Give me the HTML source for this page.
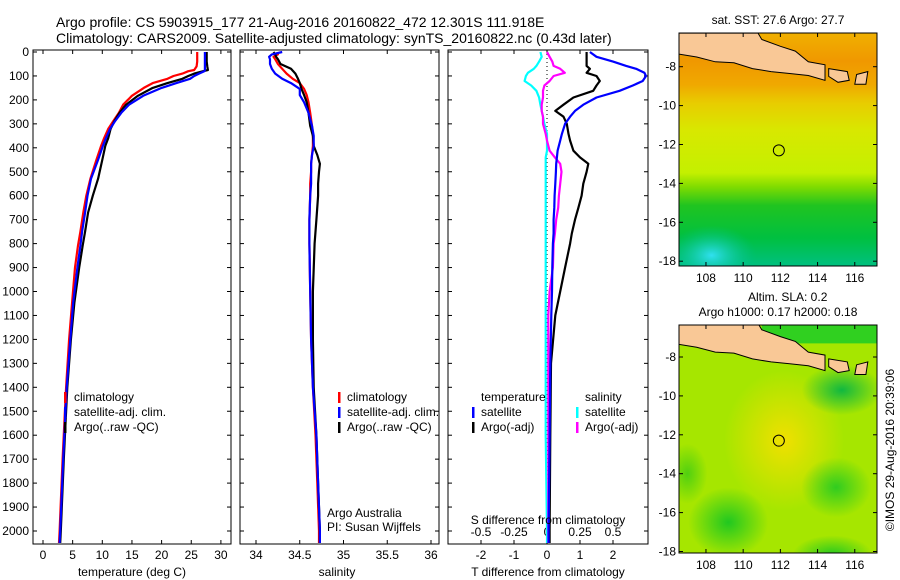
<!DOCTYPE html>
<html><head><meta charset="utf-8"><style>
body{margin:0;background:#fff;}
svg{display:block;font-family:"Liberation Sans",sans-serif;}
text{font-size:12px;fill:#000;}
</style></head><body>
<svg id="fig" width="900" height="580" viewBox="0 0 900 580">
<text x="56" y="27" style="font-size:14px">Argo profile: CS 5903915_177 21-Aug-2016 20160822_472 12.301S 111.918E</text>
<text x="56" y="43" style="font-size:14px">Climatology: CARS2009. Satellite-adjusted climatology: synTS_20160822.nc (0.43d later)</text>
<g id="g"></g>
<text transform="translate(894,450) rotate(-90)" text-anchor="middle" style="font-size:12px">©IMOS 29-Aug-2016 20:39:06</text>
</svg>
<script>
// ---------- data ----------
const depthT=[0,20,40,60,75,80,90,100,112,130,150,183,220,254,290,321,360,392,450,529,600,670,750,808,900,1046,1200,1400,1500,1700,2000,2050];
const climT=[26.0,26.0,26.0,25.9,25.5,24.5,23.5,22.0,21.0,18.5,17.0,15.0,13.5,12.8,11.8,11.0,10.3,9.8,9.0,8.0,7.3,6.8,6.3,5.9,5.4,4.9,4.4,3.9,3.7,3.3,2.8,2.7];
const satT=[27.3,27.3,27.3,27.3,27.3,27.2,26.3,25.5,24.8,22.5,20.0,16.9,14.5,13.2,12.1,11.3,10.6,10.1,9.3,8.1,7.5,7.1,6.6,6.3,5.8,5.1,4.6,4.0,3.8,3.4,2.9,2.8];
const argoT=[27.6,27.6,27.6,27.7,27.8,27.0,25.5,24.5,23.5,21.0,18.5,16.0,14.0,12.9,12.0,11.4,11.0,10.5,10.0,9.3,8.4,7.6,7.1,6.7,6.1,5.3,4.7,4.1,3.9,3.5,3.0,2.9];
const depthS=[0,10,20,30,50,70,90,112,130,154,180,210,254,308,350,392,430,467,500,550,600,700,800,1000,1200,1400,1600,1800,2000,2050];
const climS=[34.25,34.25,34.2,34.22,34.25,34.3,34.35,34.42,34.5,34.55,34.58,34.6,34.62,34.64,34.65,34.65,34.64,34.63,34.63,34.62,34.62,34.61,34.61,34.62,34.63,34.65,34.68,34.7,34.72,34.72];
const satS=[34.3,34.18,34.15,34.16,34.16,34.18,34.22,34.3,34.4,34.5,34.5,34.55,34.6,34.64,34.66,34.66,34.64,34.63,34.63,34.63,34.62,34.61,34.61,34.62,34.63,34.65,34.69,34.71,34.73,34.73];
const argoS=[34.2,34.22,34.23,34.25,34.28,34.4,34.45,34.48,34.5,34.52,34.55,34.58,34.6,34.62,34.65,34.66,34.7,34.73,34.72,34.71,34.71,34.69,34.67,34.65,34.65,34.66,34.69,34.71,34.73,34.73];
const depthD=[0,20,40,58,70,87,100,121,140,162,190,220,246,270,300,342,370,412,440,467,500,550,600,650,700,758,800,900,1000,1100,1300,1600,2000,2050];
const satDT=[1.3,1.5,2.0,2.4,2.7,2.95,3.0,2.9,2.6,2.2,1.5,1.1,0.85,0.7,0.55,0.45,0.4,0.32,0.3,0.28,0.27,0.25,0.23,0.22,0.2,0.2,0.18,0.16,0.15,0.13,0.1,0.08,0.05,0.05];
const argoDT=[1.2,1.2,1.2,1.2,1.3,1.2,1.5,1.6,1.5,1.4,0.8,0.5,0.25,0.5,0.6,0.65,0.7,0.8,1.0,1.25,1.2,1.1,1.05,0.95,0.85,0.75,0.7,0.55,0.4,0.25,0.12,0.1,0.08,0.08];
const satDS=[-0.05,-0.04,-0.06,-0.08,-0.1,-0.145,-0.16,-0.17,-0.12,-0.08,-0.06,-0.05,-0.04,-0.03,-0.02,0,0,0,-0.01,-0.01,-0.01,-0.01,-0.01,-0.01,-0.01,-0.01,-0.01,-0.01,-0.01,-0.01,-0.01,-0.01,0,0];
const argoDS=[0,0.02,0.04,0.05,0.1,0.135,0.05,0.02,-0.02,-0.03,-0.03,-0.04,-0.04,-0.03,-0.03,-0.01,0,0.02,0.06,0.1,0.11,0.1,0.09,0.085,0.07,0.06,0.05,0.045,0.02,0.01,0.01,0.01,0.01,0.01];
const depthTicks=[0,100,200,300,400,500,600,700,800,900,1000,1100,1200,1300,1400,1500,1600,1700,1800,1900,2000];
const tempTicks=[0,5,10,15,20,25,30];
const salTicks=[34,34.5,35,35.5,36];
const tdiffTicks=[-2,-1,0,1,2];
const sdiffTicks=[-0.5,-0.25,0,0.25,0.5];
const lonTicks=[108,110,112,114,116];
const latTicks=[-8,-10,-12,-14,-16,-18];
const argoLon=[111.918], argoLat=[-12.301];

const NS='http://www.w3.org/2000/svg';
const G=document.getElementById('g');
function el(t,a,p){const e=document.createElementNS(NS,t);for(const k in a)e.setAttribute(k,a[k]);(p||G).appendChild(e);return e;}
const Y0=52,KY=0.2395;
const yD=d=>Y0+d*KY;
const xT=v=>43+5.93*v, xS=v=>256+87.5*(v-34), xDT=v=>547+33*v, xDS=v=>547+132*v;
const PTOP=50,PBOT=544;
function frame(x0,x1,name){
  const r=el('rect',{x:x0,y:PTOP,width:x1-x0,height:PBOT-PTOP,fill:'none',stroke:'#000','stroke-width':1});
  
  
  depthTicks.forEach(d=>{const y=yD(d);
    el('line',{x1:x0,x2:x0+4,y1:y,y2:y,stroke:'#000'});
    el('line',{x1:x1-4,x2:x1,y1:y,y2:y,stroke:'#000'});});
}
function xticks(vals,fx,lab,yl){vals.forEach(v=>{const x=fx(v);
  el('line',{x1:x,x2:x,y1:PTOP,y2:PTOP+4,stroke:'#000'});
  el('line',{x1:x,x2:x,y1:PBOT-4,y2:PBOT,stroke:'#000'});
  if(lab){const t=el('text',{x:x,y:yl||559,'text-anchor':'middle'});t.textContent=String(v);
    
    }});}
function line(ds,vs,fx,col,name,w){
  const p=ds.map((d,i)=>(i?'L':'M')+fx(vs[i]).toFixed(1)+','+yD(Math.min(d,2052)).toFixed(1)).join('');
  const e=el('path',{d:p,fill:'none',stroke:col,'stroke-width':w||2.2,'stroke-linejoin':'round'});
  
  
}
function txt(x,y,s,name,anchor){const t=el('text',{x:x,y:y,'text-anchor':anchor||'start'});t.textContent=s;
  
  return t;}
function legBar(x,y,col){el('rect',{x:x,y:y-9,width:2.5,height:11,fill:col});}

// panel 1
frame(33,231,'temperature-panel');
depthTicks.forEach(d=>{txt(29,yD(d)+4,String(d),'y-tick-label','end');});
xticks(tempTicks,xT,true);
line(depthT,climT,xT,'#f00','climatology-temp-line');
line(depthT,argoT,xT,'#000','argo-temp-line');
line(depthT,satT,xT,'#00f','satellite-temp-line');
txt(132,576,'temperature (deg C)','x-axis-title','middle');
legBar(64,401,'#f00');txt(74,401,'climatology','legend-climatology');
legBar(64,416,'#00f');txt(74,416,'satellite-adj. clim.','legend-satellite');
legBar(64,431,'#000');txt(74,431,'Argo(..raw -QC)','legend-argo');

// panel 2
frame(240,439,'salinity-panel');
xticks(salTicks,xS,true);
line(depthS,climS,xS,'#f00','climatology-sal-line');
line(depthS,argoS,xS,'#000','argo-sal-line');
line(depthS,satS,xS,'#00f','satellite-sal-line');
txt(337,576,'salinity','x-axis-title','middle');
legBar(338,401,'#f00');txt(347,401,'climatology','legend-climatology');
legBar(338,416,'#00f');txt(347,416,'satellite-adj. clim.','legend-satellite');
legBar(338,431,'#000');txt(347,431,'Argo(..raw -QC)','legend-argo');
txt(327,517,'Argo Australia','credit-argo-australia');
txt(327,531,'PI: Susan Wijffels','credit-pi');

// panel 3
frame(448,648,'difference-panel');
xticks(tdiffTicks,xDT,true);
sdiffTicks.forEach(v=>{const x=xDS(v);el('line',{x1:x,x2:x,y1:PBOT-4,y2:PBOT,stroke:'#000'});
  txt(x,536,String(v),'s-tick-label','middle');});
el('line',{x1:xDT(0),x2:xDT(0),y1:PTOP,y2:PBOT,stroke:'#000','stroke-dasharray':'1,3'});
line(depthD,satDS,xDS,'#0ff','satellite-sdiff-line');
line(depthD,argoDS,xDS,'#f0f','argo-sdiff-line');
line(depthD,argoDT,xDT,'#000','argo-tdiff-line');
line(depthD,satDT,xDT,'#00f','satellite-tdiff-line');
txt(548,576,'T difference from climatology','x-axis-title','middle');
txt(548,524,'S difference from climatology','s-axis-title','middle');
txt(481,401,'temperature','legend-temperature');txt(585,401,'salinity','legend-salinity');
legBar(472,416,'#00f');txt(481,416,'satellite','legend-t-satellite');
legBar(472,431,'#000');txt(481,431,'Argo(-adj)','legend-t-argo');
legBar(576,416,'#0ff');txt(585,416,'satellite','legend-s-satellite');
legBar(576,431,'#f0f');txt(585,431,'Argo(-adj)','legend-s-argo');

// maps
const MX0=679,MX1=877,LON0=106.55,KX=18.6;
const mx=l=>MX0+(l-LON0)*KX;
const coastS=[[106.55,-7.35],[107.5,-7.5],[108.5,-7.75],[109.5,-7.8],[110.5,-8.1],[111.5,-8.25],[112.5,-8.35],[113.5,-8.45],[114.4,-8.7],[114.4,-7.9],[113.5,-7.75],[112.8,-7.2],[112,-6.95],[111,-6.6],[110.8,-6.27],[106.55,-6.27]];
const bali=[[114.6,-8.1],[115.6,-8.25],[115.7,-8.7],[115.1,-8.8],[114.6,-8.5]];
const lombok=[[116.1,-8.4],[116.7,-8.25],[116.6,-8.9],[116.0,-8.9]];
function map(y0,y1,yLat8,id,kind){
  const my=l=>yLat8+(-8-l)*19.45;
  const g=el('g',{});
  
  
  const defs=el('defs',{},g);
  const cp=el('clipPath',{id:id+'c'},defs);el('rect',{x:MX0,y:y0,width:MX1-MX0,height:y1-y0},cp);
  const c=el('g',{'clip-path':'url(#'+id+'c)'},g);
  if(kind==='sst'){
    const lg=el('linearGradient',{id:id+'g',x1:0,y1:0,x2:0,y2:1},defs);
    [['0','#f0b000'],['0.12','#f09800'],['0.22','#f0a800'],['0.3','#e8cc00'],['0.42','#d8e800'],['0.6','#c4f000'],['0.66','#80dc00'],['0.74','#20c420'],['0.88','#00c040'],['1','#00c080']].forEach(s=>el('stop',{offset:s[0],'stop-color':s[1]},lg));
    el('rect',{x:MX0,y:y0,width:MX1-MX0,height:y1-y0,fill:'url(#'+id+'g)'},c);
    const rg=el('radialGradient',{id:id+'t'},defs);
    el('stop',{offset:'0','stop-color':'#30e0f0'},rg);el('stop',{offset:'1','stop-color':'#00c090','stop-opacity':0},rg);
    el('ellipse',{cx:mx(108.3),cy:my(-17.7),rx:45,ry:30,fill:'url(#'+id+'t)'},c);
  } else {
    el('rect',{x:MX0,y:y0,width:MX1-MX0,height:y1-y0,fill:'#a6e600'},c);
    const blob=(lon,lat,rx,ry,col,n)=>{const rg=el('radialGradient',{id:id+n},defs);
      el('stop',{offset:'0','stop-color':col},rg);el('stop',{offset:'1','stop-color':col,'stop-opacity':0},rg);
      el('ellipse',{cx:mx(lon),cy:my(lat),rx:rx,ry:ry,fill:'url(#'+id+n+')'},c);};
    blob(112.2,-12.3,60,70,'#f0e000','y');
    blob(109.2,-16.5,40,35,'#20c820','a');
    blob(115,-14.7,35,30,'#30cc20','b');
    blob(115.3,-9.7,40,25,'#10b840','d');
    blob(114.8,-18.2,40,20,'#20c820','e');
    blob(107,-14,20,30,'#50d010','f');
    el('rect',{x:mx(111),y:y0,width:MX1-mx(111),height:my(-7.3)-y0,fill:'#30d020'},c);
  }
  const poly=(pts)=>el('polygon',{points:pts.map(p=>mx(p[0]).toFixed(1)+','+my(p[1]).toFixed(1)).join(' '),fill:'#f9c896',stroke:'#000','stroke-width':1},c);
  poly(coastS);poly(bali);poly(lombok);
  const ac=el('circle',{cx:mx(argoLon[0]),cy:my(argoLat[0]),r:5.5,fill:'none',stroke:'#000','stroke-width':1},g);
  
  
  el('rect',{x:MX0,y:y0,width:MX1-MX0,height:y1-y0,fill:'none',stroke:'#000'},g);
  lonTicks.forEach(l=>{const x=mx(l);el('line',{x1:x,x2:x,y1:y0,y2:y0+4,stroke:'#000'},g);el('line',{x1:x,x2:x,y1:y1-4,y2:y1,stroke:'#000'},g);
    const t=el('text',{x:x,y:y1+16,'text-anchor':'middle'},g);t.textContent=String(l);});
  latTicks.forEach(l=>{const y=my(l);el('line',{x1:MX0,x2:MX0+4,y1:y,y2:y,stroke:'#000'},g);el('line',{x1:MX1-4,x2:MX1,y1:y,y2:y,stroke:'#000'},g);
    const t=el('text',{x:676,y:y+4,'text-anchor':'end'},g);t.textContent=String(l);});
}
map(33,266,66.7,'sst-map','sst');
map(325,553,357,'sla-map','sla');
txt(778,24,'sat. SST: 27.6 Argo: 27.7','sst-map-title','middle');
txt(748,301,'Altim. SLA: 0.2','sla-map-title','start');
txt(778,316,'Argo h1000: 0.17 h2000: 0.18','sla-map-subtitle','middle');
</script>
</body></html>
